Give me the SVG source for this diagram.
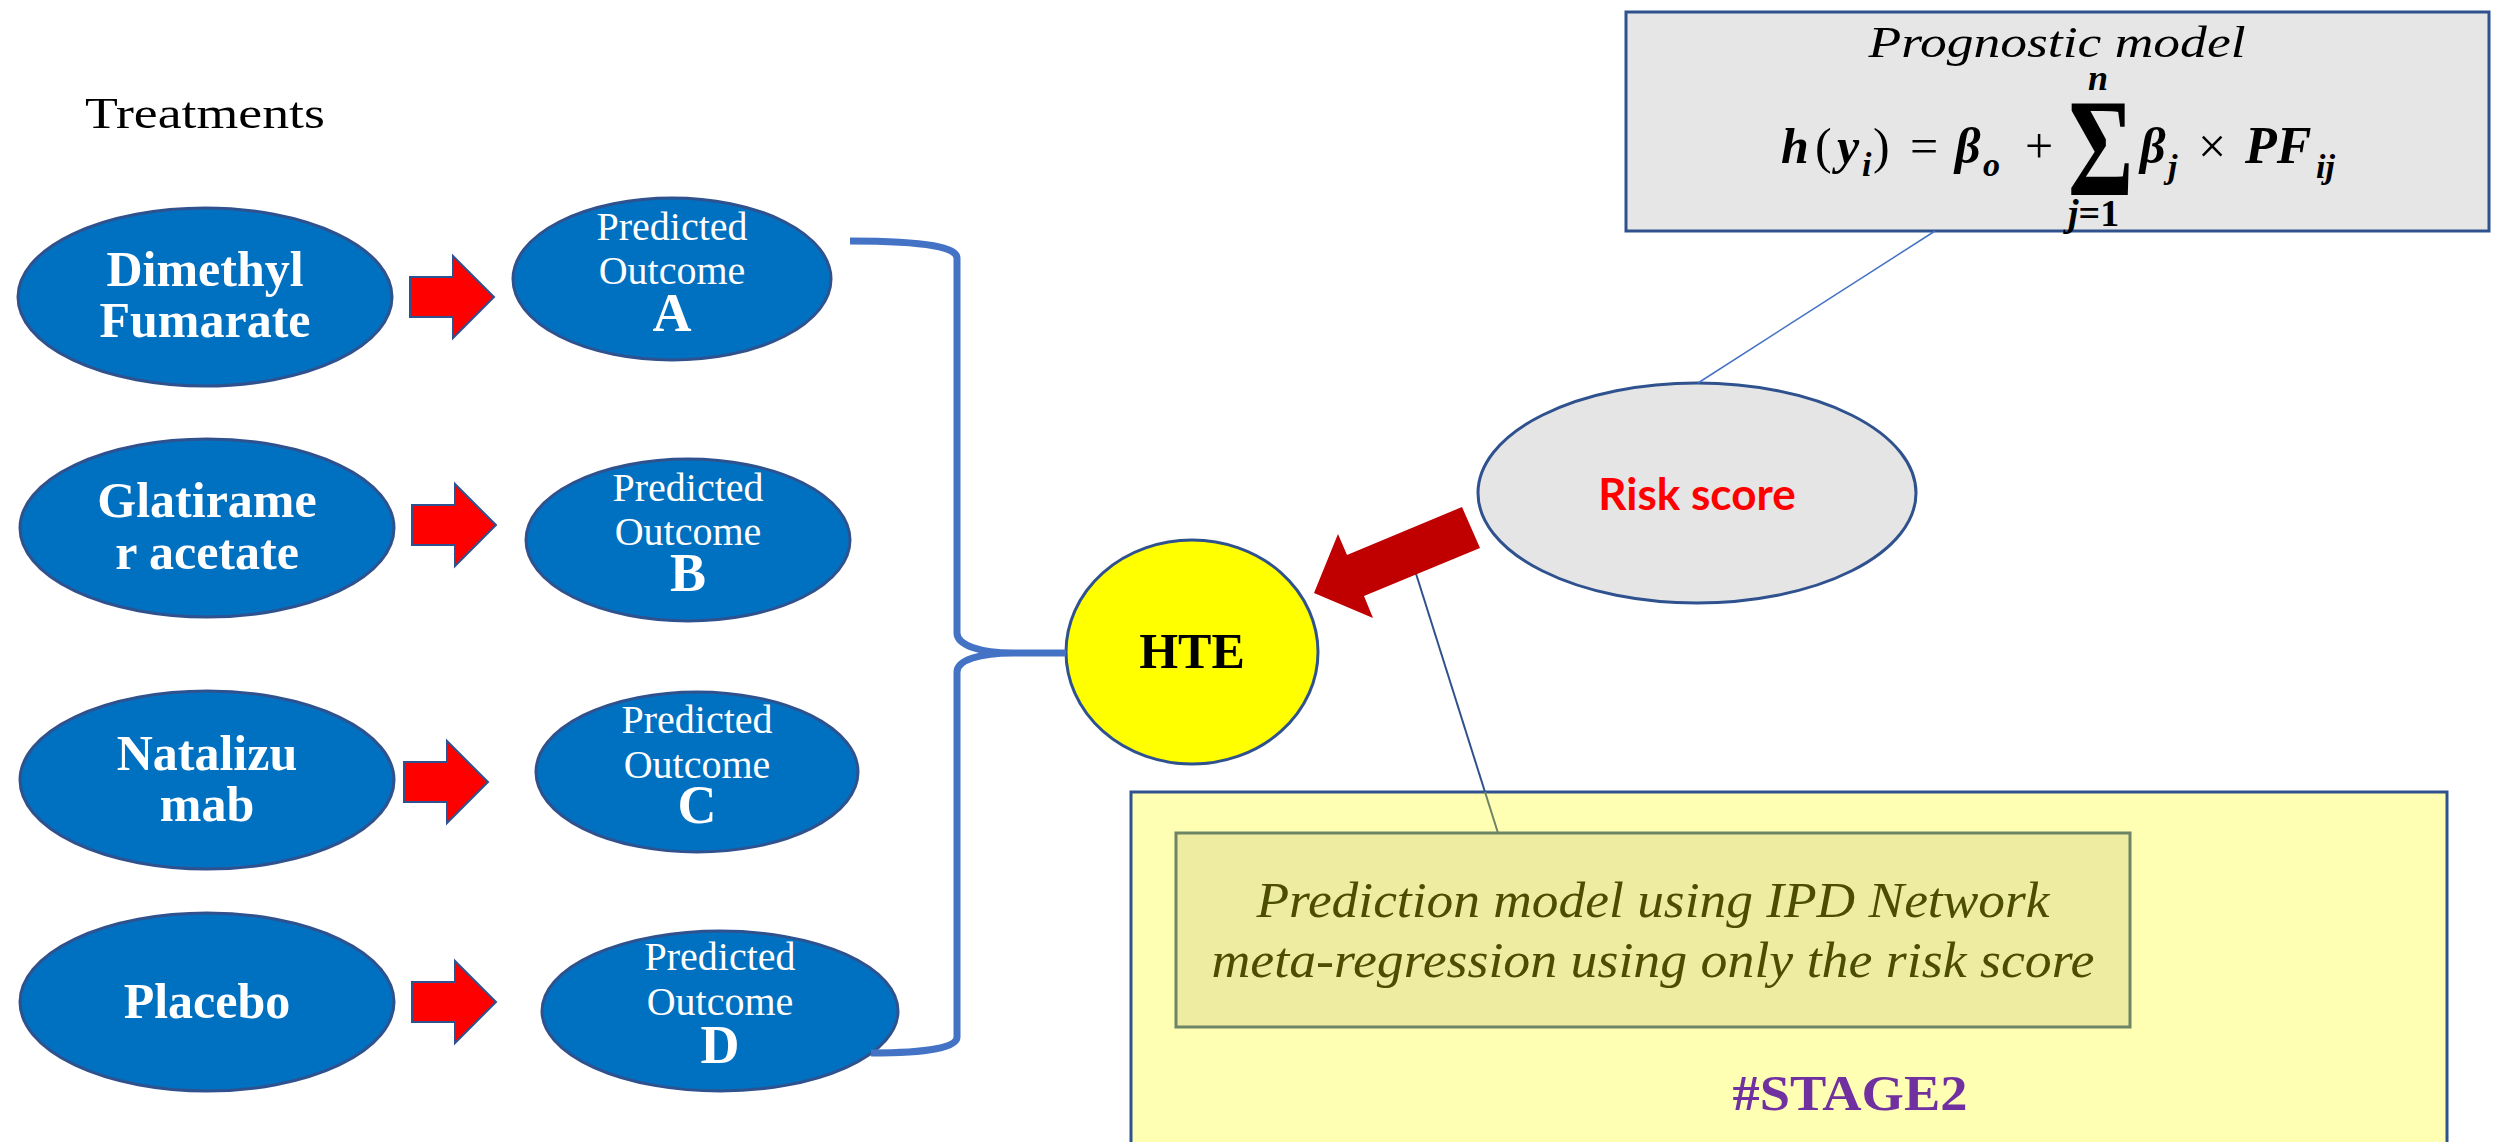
<svg xmlns="http://www.w3.org/2000/svg" xmlns:xlink="http://www.w3.org/1999/xlink" width="2503" height="1142" viewBox="0 0 2503 1142">
  <style>
    .serif{font-family:"Liberation Serif","Times New Roman",serif}
    .drug{fill:#0070C0;stroke:#2F528F;stroke-width:3}
    .outc{fill:#0070C0;stroke:#2F528F;stroke-width:3}
    .drugtx{font-family:"Liberation Serif",serif;font-weight:bold;font-size:50px;fill:#FFFFFF;text-anchor:middle}
    .outtx{font-family:"Liberation Serif",serif;font-size:40px;fill:#FFFFFF;text-anchor:middle}
    .outlet{font-family:"Liberation Serif",serif;font-weight:bold;font-size:54px;fill:#FFFFFF;text-anchor:middle}
    .blk{fill:#FF0000;stroke:#2F528F;stroke-width:2}
    .mb{font-family:"Liberation Serif",serif;font-weight:bold;font-style:italic;fill:#000}
    .mr{font-family:"Liberation Serif",serif;fill:#000}
  </style>
  <defs>
    <!-- block arrow, origin at left end of the shaft centre line -->
    <path id="blockArrow" class="blk" d="M0,-20 H43 V-41 L84,0 L43,41 V20 H0 Z"/>
  </defs>

  <rect width="2503" height="1142" fill="#FFFFFF"/>

  <text class="serif" x="85" y="128" font-size="44" textLength="240" lengthAdjust="spacingAndGlyphs" fill="#000">Treatments</text>

  <!-- treatments -->
  <g id="dimethyl-fumarate">
    <ellipse class="drug" cx="205" cy="297" rx="187" ry="89"/>
    <text class="drugtx" x="205" y="286">Dimethyl</text>
    <text class="drugtx" x="205" y="337">Fumarate</text>
  </g>
  <g id="glatiramer-acetate">
    <ellipse class="drug" cx="207" cy="528" rx="187" ry="89"/>
    <text class="drugtx" x="207" y="517">Glatirame</text>
    <text class="drugtx" x="207" y="569">r acetate</text>
  </g>
  <g id="natalizumab">
    <ellipse class="drug" cx="207" cy="780" rx="187" ry="89"/>
    <text class="drugtx" x="207" y="770">Natalizu</text>
    <text class="drugtx" x="207" y="821">mab</text>
  </g>
  <g id="placebo">
    <ellipse class="drug" cx="207" cy="1002" rx="187" ry="89"/>
    <text class="drugtx" x="207" y="1018">Placebo</text>
  </g>

  <!-- block arrows -->
  <g id="arrow-a"><use xlink:href="#blockArrow" href="#blockArrow" transform="translate(410,297)"/></g>
  <g id="arrow-b"><use xlink:href="#blockArrow" href="#blockArrow" transform="translate(412,525)"/></g>
  <g id="arrow-c"><use xlink:href="#blockArrow" href="#blockArrow" transform="translate(404,782)"/></g>
  <g id="arrow-d"><use xlink:href="#blockArrow" href="#blockArrow" transform="translate(412,1002)"/></g>

  <!-- predicted outcomes -->
  <g id="outcome-a">
    <ellipse class="outc" cx="672" cy="279" rx="159" ry="81"/>
    <text class="outtx" x="672" y="240">Predicted</text>
    <text class="outtx" x="672" y="284">Outcome</text>
    <text class="outlet" x="672" y="331">A</text>
  </g>
  <g id="outcome-b">
    <ellipse class="outc" cx="688" cy="540" rx="162" ry="81"/>
    <text class="outtx" x="688" y="501">Predicted</text>
    <text class="outtx" x="688" y="545">Outcome</text>
    <text class="outlet" x="688" y="591">B</text>
  </g>
  <g id="outcome-c">
    <ellipse class="outc" cx="697" cy="772" rx="161" ry="80"/>
    <text class="outtx" x="697" y="733">Predicted</text>
    <text class="outtx" x="697" y="778">Outcome</text>
    <text class="outlet" x="697" y="823">C</text>
  </g>
  <g id="outcome-d">
    <ellipse class="outc" cx="720" cy="1011" rx="178" ry="80"/>
    <text class="outtx" x="720" y="970">Predicted</text>
    <text class="outtx" x="720" y="1015">Outcome</text>
    <text class="outlet" x="720" y="1063">D</text>
  </g>

  <!-- HTE -->
  <g id="hte">
    <ellipse cx="1192" cy="652" rx="126" ry="112" fill="#FFFF00" stroke="#2F528F" stroke-width="3"/>
    <text class="serif" x="1192" y="668" font-size="50" font-weight="bold" text-anchor="middle" fill="#000">HTE</text>
  </g>

  <!-- risk score -->
  <g id="risk-score">
    <ellipse cx="1697" cy="493" rx="219" ry="110" fill="#E5E5E5" stroke="#2F528F" stroke-width="3"/>
    <text x="1697" y="510" font-family="Lato, 'Liberation Sans', sans-serif" font-weight="bold" font-size="44" text-anchor="middle" fill="#FF0000">Risk score</text>
  </g>

  <!-- prognostic model -->
  <g id="prognostic-model">
    <rect x="1626" y="12" width="863" height="219" fill="#E6E6E6" stroke="#2F528F" stroke-width="3"/>
    <text class="serif" x="2057" y="57" font-size="45" font-style="italic" text-anchor="middle" textLength="377" lengthAdjust="spacingAndGlyphs" fill="#000">Prognostic model</text>
    <text class="mb" x="1781" y="163" font-size="50">h</text>
    <text class="mr" x="1815" y="163" font-size="50">(</text>
    <text class="mb" x="1837" y="163" font-size="50">y</text>
    <text class="mb" x="1862" y="176" font-size="34">i</text>
    <text class="mr" x="1873" y="163" font-size="50">)</text>
    <text class="mr" x="1910" y="163" font-size="50">=</text>
    <text class="mb" x="1955" y="163" font-size="50">β</text>
    <text class="mb" x="1983" y="176" font-size="34">o</text>
    <text class="mr" x="2025" y="163" font-size="50">+</text>
    <text class="mr" font-size="100" font-weight="bold" transform="translate(2068,195) scale(1,1.39)">Σ</text>
    <text class="mb" x="2088" y="90" font-size="36">n</text>
    <text class="mb" x="2068" y="226" font-size="38">j<tspan font-style="normal">=1</tspan></text>
    <text class="mb" x="2140" y="163" font-size="50">β</text>
    <text class="mb" x="2168" y="178" font-size="34">j</text>
    <text class="mr" x="2198" y="163" font-size="50">×</text>
    <text class="mb" x="2245" y="163" font-size="52">PF</text>
    <text class="mb" x="2316" y="178" font-size="34">ij</text>
  </g>

  <!-- stage 2 panel -->
  <g id="stage2">
    <rect x="1131" y="792" width="1316" height="370" fill="#FFFFB3" stroke="#2F528F" stroke-width="3"/>
    <text class="serif" x="1850" y="1110" font-size="50" font-weight="bold" text-anchor="middle" textLength="235" lengthAdjust="spacingAndGlyphs" fill="#7030A0">#STAGE2</text>
  </g>
  <g id="prediction-model">
    <rect x="1176" y="833" width="954" height="194" fill="#EEECA1" stroke="#6D8465" stroke-width="3"/>
    <text class="serif" x="1653" y="917" font-size="50" font-style="italic" text-anchor="middle" textLength="793" lengthAdjust="spacingAndGlyphs" fill="#4D4D00">Prediction model using IPD Network</text>
    <text class="serif" x="1653" y="977" font-size="50" font-style="italic" text-anchor="middle" textLength="883" lengthAdjust="spacingAndGlyphs" fill="#4D4D00">meta-regression using only the risk score</text>
  </g>

  <!-- connectors -->
  <g id="connectors" fill="none">
    <path d="M850,241 C930,241 957,248 957,258 L957,633 C957,645 980,653 1013,653 L1066,653 M1013,653 C980,653 957,660 957,672 L957,1037 C957,1047 930,1053 871,1053" stroke="#4472C4" stroke-width="7"/>
    <line x1="1698" y1="383" x2="1935" y2="231" stroke="#4472C4" stroke-width="1.5"/>
    <line x1="1412" y1="561" x2="1485" y2="792" stroke="#2F528F" stroke-width="2"/>
    <line x1="1485" y1="792" x2="1498" y2="833" stroke="#6D8465" stroke-width="2"/>
    <polygon points="1462,507 1347,555 1338,534 1314,593 1373,618 1364,596 1480,548" fill="#C00000"/>
  </g>
</svg>
